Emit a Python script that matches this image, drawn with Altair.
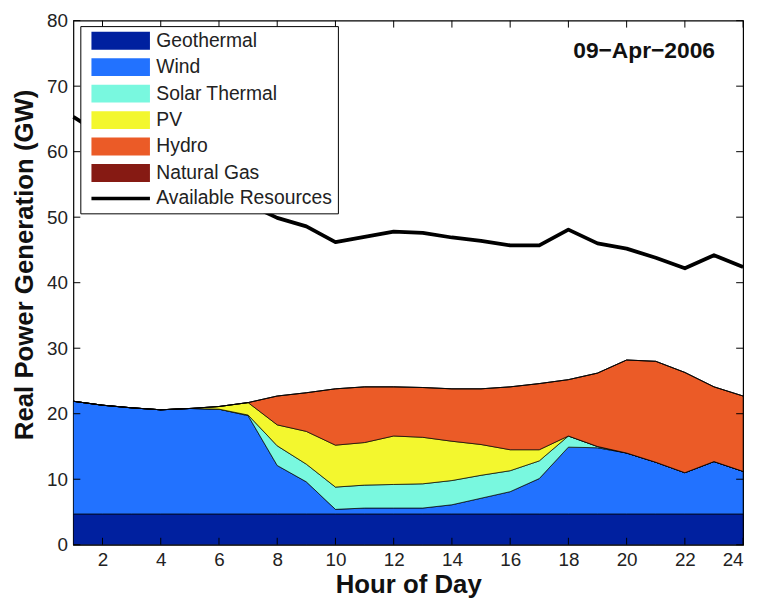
import altair as alt
import pandas as pd

# ---------------- data ----------------
hours = list(range(1, 25))
sources = ["Geothermal", "Wind", "Solar Thermal", "PV", "Hydro", "Natural Gas"]
geothermal = [4.7, 4.7, 4.7, 4.7, 4.7, 4.7, 4.7, 4.7, 4.7, 4.7, 4.7, 4.7,
              4.7, 4.7, 4.7, 4.7, 4.7, 4.7, 4.7, 4.7, 4.7, 4.7, 4.7, 4.7]
wind = [17.2, 16.6, 16.2, 15.9, 16.1, 16.0, 15.0, 7.4, 4.9, 0.7, 0.9, 0.9,
        0.9, 1.4, 2.4, 3.4, 5.4, 10.2, 10.1, 9.3, 7.9, 6.3, 8.0, 6.5]
solar_thermal = [0, 0, 0, 0, 0, 0, 0.1, 3.0, 2.7, 3.4, 3.5, 3.6,
                 3.7, 3.7, 3.5, 3.2, 2.7, 1.7, 0.2, 0, 0, 0, 0, 0]
pv = [0, 0, 0, 0, 0, 0.4, 1.9, 3.2, 5.0, 6.4, 6.5, 7.4,
      7.1, 6.0, 4.7, 3.2, 1.7, 0, 0, 0, 0, 0, 0, 0]
hydro = [0, 0, 0, 0, 0, 0, 0, 4.4, 5.9, 8.6, 8.5, 7.5,
         7.6, 8.0, 8.5, 9.6, 10.1, 8.6, 11.2, 14.2, 15.4, 15.3, 11.4, 11.5]
natural_gas = [0, 0, 0, 0, 0, 0, 0, 0, 0, 0, 0, 0,
               0, 0, 0, 0, 0, 0, 0, 0, 0, 0, 0, 0]
available = [65.3, 62.5, 60.0, 58.0, 56.0, 54.0, 52.0, 49.9, 48.6, 46.2, 47.0, 47.8,
             47.6, 46.9, 46.4, 45.7, 45.7, 48.1, 46.0, 45.2, 43.8, 42.2, 44.2, 42.4]

legend_names = sources + ["Available Resources"]
colors = ["#00209F", "#2272FF", "#79F8DF", "#F3F72E", "#EB5B27", "#861A13", "#000000"]
box = "M-3.28,-1H3.28V1H-3.28Z"
bar = "M-3.28,-0.2H3.28V0.2H-3.28Z"
shapes = [box, box, box, box, box, box, bar]

x_ticks = [2, 4, 6, 8, 10, 12, 14, 16, 18, 20, 22, 24]
y_ticks = [0, 10, 20, 30, 40, 50, 60, 70, 80]
date_label = ["09\u2212Apr\u22122006"]
date_x = [20.6]
date_y = [75.3]

# ---------------- tables ----------------
series = [geothermal, wind, solar_thermal, pv, hydro, natural_gas]
rows = []
for k, (name, vals) in enumerate(zip(sources, series)):
    for h, v in zip(hours, vals):
        rows.append({"hour": h, "source": name, "value": v, "ord": k})
df_area = pd.DataFrame(rows)
df_line = pd.DataFrame({"hour": hours, "avail": available})
df_leg = pd.DataFrame({"entry": legend_names, "lx": [1] * 7, "ly": [0] * 7})
df_xt = pd.DataFrame({"t": x_ticks})
df_yt = pd.DataFrame({"t": y_ticks})
df_txt = pd.DataFrame({"x": date_x, "y": date_y, "label": date_label})

W, H = 676, 529
xs = alt.Scale(domain=[1, 24], nice=False, zero=False)
ys = alt.Scale(domain=[0, 80], nice=False, zero=False)
cs = alt.Scale(domain=sources, range=colors[:6])
fs = alt.Scale(domain=legend_names, range=colors)
ss = alt.Scale(domain=legend_names, range=shapes)

areas = alt.Chart(df_area).mark_area(
    stroke="black", strokeWidth=0.7, strokeJoin="round", interpolate="linear"
).encode(
    x=alt.X("hour:Q", scale=xs,
            axis=alt.Axis(values=x_ticks, title="Hour of Day", format="d")),
    y=alt.Y("value:Q", stack="zero", scale=ys,
            axis=alt.Axis(values=y_ticks, title="Real Power Generation (GW)", format="d",
                          titleY=246)),
    color=alt.Color("source:N", scale=cs, legend=None),
    order=alt.Order("ord:Q", sort="ascending"),
)

line = alt.Chart(df_line).mark_line(color="black", strokeWidth=3.8, strokeJoin="round").encode(
    x=alt.X("hour:Q", scale=xs, axis=None),
    y=alt.Y("avail:Q", scale=ys, axis=None),
)

leg_props = dict(title=None, orient="none", legendX=7, legendY=5.5,
                 symbolSize=324, symbolOpacity=1, symbolOffset=26,
                 symbolStrokeColor="black", symbolStrokeWidth=1,
                 labelFontSize=19.5, labelFont="Liberation Sans",
                 labelColor="#222222", labelOffset=26.2,
                 rowPadding=3.7, padding=5,
                 strokeColor="black", fillColor="white",
                 labelLimit=300)

leg = alt.Chart(df_leg).mark_point(
    filled=True, stroke="black", strokeWidth=1, strokeOpacity=1, opacity=0
).encode(
    x=alt.X("lx:Q", scale=xs, axis=None),
    y=alt.Y("ly:Q", scale=ys, axis=None),
    fill=alt.Fill("entry:N", scale=fs, sort=legend_names, legend=alt.Legend(**leg_props)),
    shape=alt.Shape("entry:N", scale=ss, sort=legend_names, legend=alt.Legend(**leg_props)),
    stroke=alt.value("black"),
)

tick_b = alt.Chart(df_xt).mark_rule(color="black", strokeWidth=1).encode(
    x=alt.X("t:Q", scale=xs, axis=None), y=alt.value(H), y2=alt.value(H - 7))
tick_t = alt.Chart(df_xt).mark_rule(color="black", strokeWidth=1).encode(
    x=alt.X("t:Q", scale=xs, axis=None), y=alt.value(0), y2=alt.value(7))
tick_l = alt.Chart(df_yt).mark_rule(color="black", strokeWidth=1).encode(
    y=alt.Y("t:Q", scale=ys, axis=None), x=alt.value(0), x2=alt.value(7))
tick_r = alt.Chart(df_yt).mark_rule(color="black", strokeWidth=1).encode(
    y=alt.Y("t:Q", scale=ys, axis=None), x=alt.value(W), x2=alt.value(W - 7))

txt = alt.Chart(df_txt).mark_text(
    font="Liberation Sans", fontSize=23, fontWeight="bold", color="#111111",
    align="center", baseline="middle"
).encode(
    x=alt.X("x:Q", scale=xs, axis=None),
    y=alt.Y("y:Q", scale=ys, axis=None),
    text="label:N",
)

chart = alt.layer(areas, line, tick_b, tick_t, tick_l, tick_r, txt, leg).resolve_axis(
    x="independent", y="independent"
).properties(
    width=W, height=H,
    autosize=alt.AutoSizeParams(type="none"),
    padding={"left": 66, "top": 10, "right": 11, "bottom": 52},
    background="white",
).configure_view(
    stroke="black", strokeWidth=1.2
).configure_axis(
    domain=False, ticks=False, grid=False,
    labelFont="Liberation Sans", labelFontSize=19, labelColor="#222222",
    titleFont="Liberation Sans", titleFontSize=26, titleFontWeight="bold", titleColor="#111111",
).configure_axisX(
    labelPadding=6, titlePadding=2
).configure_axisY(
    labelPadding=6, titlePadding=9
).configure_legend(
    symbolStrokeColor="black", symbolStrokeWidth=1
)

chart.save("out.html", embed_options={"renderer": "svg", "actions": False})
